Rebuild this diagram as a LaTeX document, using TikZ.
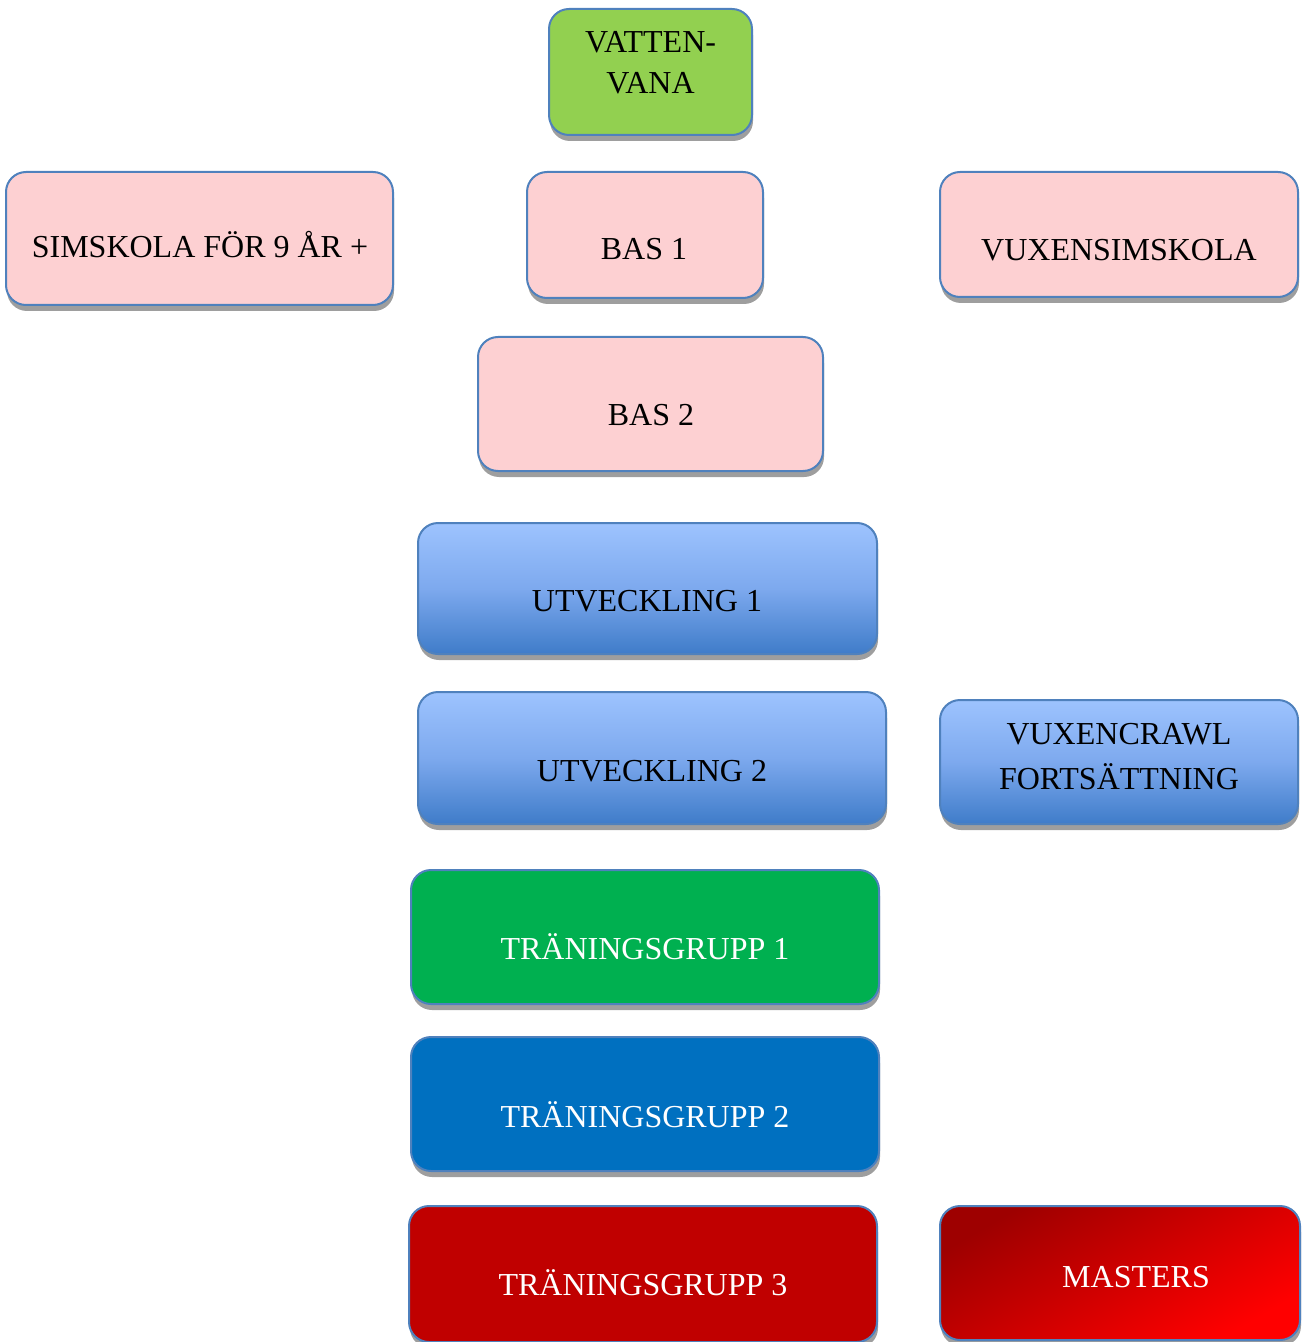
\documentclass[tikz,border=0pt]{standalone}
\usepackage{fontspec}
\setmainfont{Liberation Serif}
\usetikzlibrary{shadows}
\definecolor{bordc}{HTML}{4F81BD}
\definecolor{pinkc}{HTML}{FDD0D2}
\definecolor{vgreen}{HTML}{92D050}
\definecolor{tgreen}{HTML}{00B050}
\definecolor{tblue}{HTML}{0070C0}
\definecolor{tred}{HTML}{C00000}
\definecolor{utop}{HTML}{9DC3FE}
\definecolor{umid}{HTML}{7DA9EE}
\definecolor{ubot}{HTML}{3F7CC9}
\definecolor{mdark}{HTML}{9E0000}
\definecolor{mbright}{HTML}{FF0000}
\tikzset{
  box/.style={draw=bordc, line width=1pt, rounded corners=10pt, inner sep=0pt,
    drop shadow={shadow xshift=0.5pt, shadow yshift=-3pt, fill=black!38, opacity=1}},
  pinkbox/.style={box, fill=pinkc},
  ubox/.style={box, top color=utop, bottom color=ubot, middle color=umid},
  txt/.style={font=\fontsize{16}{20.5}\selectfont, text=black, inner sep=0pt},
  wtxt/.style={txt, text=white},
}
\begin{document}
\begin{tikzpicture}[x=0.5pt, y=-0.5pt]
\useasboundingbox (0,0) rectangle (1301,1342);
% boxes (center, width, height in px)
\node[box, fill=vgreen, minimum width=101.5pt, minimum height=63pt] (vatten) at (650.5,72) {};
\node[pinkbox, minimum width=193.5pt, minimum height=66.5pt] (simskola) at (199.5,238.5) {};
\node[pinkbox, minimum width=118pt, minimum height=63pt] (bas1) at (645,235) {};
\node[pinkbox, minimum width=179pt, minimum height=62.5pt] (vuxsim) at (1119,234.5) {};
\node[pinkbox, minimum width=172.5pt, minimum height=67pt] (bas2) at (650.5,404) {};
\node[ubox, minimum width=229.5pt, minimum height=65.5pt] (utv1) at (647.5,588.5) {};
\node[ubox, minimum width=234pt, minimum height=66pt] (utv2) at (652,758) {};
\node[ubox, minimum width=179pt, minimum height=62pt] (vuxcrawl) at (1119,762) {};
\node[box, fill=tgreen, minimum width=234pt, minimum height=67pt] (tg1) at (645,937) {};
\node[box, fill=tblue, minimum width=234pt, minimum height=67pt] (tg2) at (645,1104) {};
\node[box, fill=tred, minimum width=234pt, minimum height=68pt] (tg3) at (643,1274) {};
\node[box, shading=axis, top color=mdark, bottom color=mbright, shading angle=30,
      minimum width=180pt, minimum height=67pt] (masters) at (1120,1273) {};
% texts
\node[txt, align=center] (vattenT) at (650.5,63) {VATTEN-\\VANA};
\node[txt, anchor=base] (simskolaT) at (200,258) {SIMSKOLA FÖR 9 ÅR +};
\node[txt, anchor=base] (bas1T) at (644,260) {BAS 1};
\node[txt, anchor=base] (vuxsimT) at (1119,261) {VUXENSIMSKOLA};
\node[txt, anchor=base] (bas2T) at (651,425) {BAS 2};
\node[txt, anchor=base] (utv1T) at (647,611) {UTVECKLING 1};
\node[txt, anchor=base] (utv2T) at (652,781) {UTVECKLING 2};
\node[txt, align=center, font=\fontsize{16}{22.5}\selectfont] (vuxcrawlT) at (1119,756.5) {VUXENCRAWL\\FORTSÄTTNING};
\node[wtxt, anchor=base] (tg1T) at (645,959) {TRÄNINGSGRUPP 1};
\node[wtxt, anchor=base] (tg2T) at (645,1127) {TRÄNINGSGRUPP 2};
\node[wtxt, anchor=base] (tg3T) at (643,1295) {TRÄNINGSGRUPP 3};
\node[wtxt, anchor=base] (mastersT) at (1136,1287) {MASTERS};
\end{tikzpicture}
\end{document}
